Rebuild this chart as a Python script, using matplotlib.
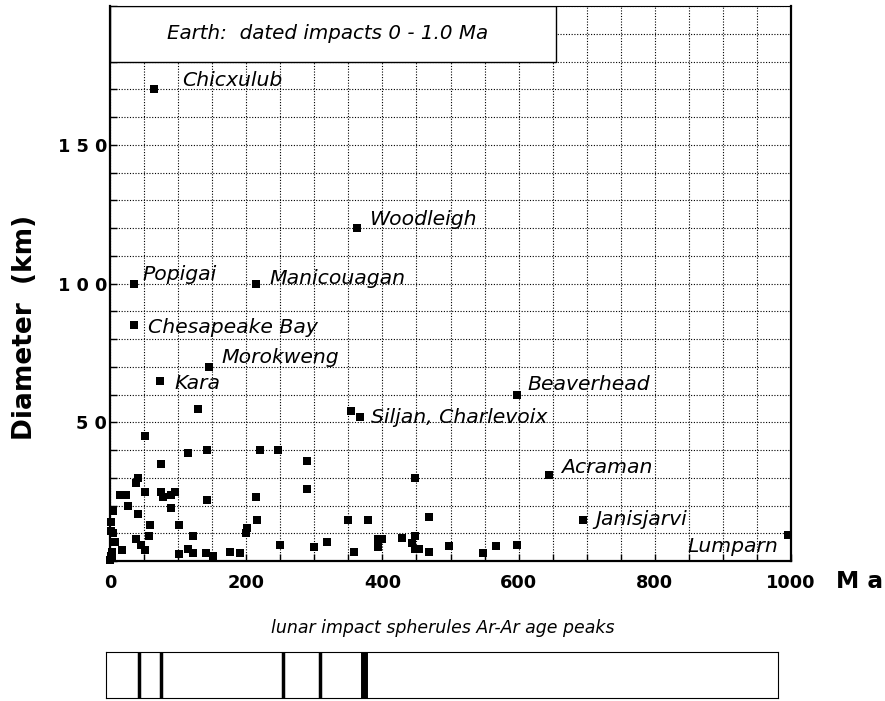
import matplotlib.pyplot as plt
from matplotlib.patches import Rectangle
from matplotlib.ticker import MultipleLocator

plt.rcParams['font.family'] = ['DejaVu Sans']

# named craters: age (Ma), diameter (km)
names = ["Chicxulub", "Popigai", "Chesapeake Bay", "Kara", "Morokweng",
         "Manicouagan", "Woodleigh", "Beaverhead", "Siljan, Charlevoix",
         "Acraman", "Janisjarvi", "Lumparn"]
named_age = [65, 35, 35, 73, 145, 214, 362, 597, 367, 644, 695, 995]
named_diam = [170, 100, 85, 65, 70, 100, 120, 60, 52, 31, 15, 9.5]

# other dated impacts
other_age = [354, 129, 51, 115, 143, 220, 247, 75, 41, 38, 15, 24, 51, 75, 78,
             89, 96, 143, 215, 26, 5, 41, 90, 216, 2, 2, 59, 101, 201, 200,
             122, 57, 4, 7, 38, 46, 51, 17, 3, 3, 1, 0.5, 249, 101, 115, 122,
             141, 151, 176, 191, 290, 290, 448, 349, 379, 469, 299, 319, 359,
             393, 400, 394, 429, 448, 443, 448, 454, 469, 498, 548, 567, 597]
other_diam = [54, 55, 45, 39, 40, 40, 40, 35, 30, 28, 24, 24, 25, 25, 23,
              24, 25, 22, 23, 20, 18, 17, 19, 15, 14, 11, 13, 13, 12, 10,
              9, 9, 10, 7, 8, 6, 4, 4, 3.5, 1, 2, 0.5, 6, 2.5, 4.5, 3,
              3, 2, 3.5, 3, 36, 26, 30, 15, 15, 16, 5, 7, 3.5,
              8, 8, 5, 8.5, 9, 6.5, 4.5, 4.5, 3.5, 5.5, 3, 5.5, 6]

# lunar spherule Ar-Ar age peaks (Ma) and relative weight
peak_age = [49, 82, 264, 318, 384]
peak_weight = [2.5, 2.5, 2.5, 2.5, 5]

xtick_vals = [0, 200, 400, 600, 800, 1000]
xtick_labels = ["0", "200", "400", "600", "800", "1000"]
ytick_vals = [50, 100, 150]
ytick_labels = ["5 0", "1 0 0", "1 5 0"]

# label offsets in pixels (dx, dy, ha)
label_offsets = [(28, 3, "left"), (9, 4, "left"), (14, -8, "left"),
                 (15, -8, "left"), (13, 4, "left"), (14, 0, "left"),
                 (13, 3, "left"), (11, 5, "left"), (11, -6, "left"),
                 (13, 2, "left"), (12, -5, "left"), (-9, -17, "right")]

fig = plt.figure(figsize=(8.85, 7.01), dpi=100)
ax = fig.add_axes([0.1243, 0.1994, 0.7695, 0.792])

ax.set_xlim(0, 1000)
ax.set_ylim(0, 200)
ax.set_axisbelow(True)

ax.xaxis.set_minor_locator(MultipleLocator(50))
ax.yaxis.set_minor_locator(MultipleLocator(10))
ax.set_xticks(xtick_vals)
ax.set_xticklabels(xtick_labels, fontsize=12.8, fontweight="bold")
ax.set_yticks(ytick_vals)
ax.set_yticklabels(ytick_labels, fontsize=12.8, fontweight="bold")
ax.tick_params(axis="both", which="both", direction="in", length=5, width=1)
ax.tick_params(axis="x", which="major", pad=9)
ax.tick_params(axis="y", which="major", pad=2)
ax.grid(True, which="both", color="black", linestyle=(0, (1, 1.5)), linewidth=0.8)
for s in ax.spines.values():
    s.set_linewidth(1.6)
ax.spines["top"].set_linewidth(0.8)

# title box
ax.add_patch(Rectangle((0, 180), 655, 20, facecolor="white", edgecolor="black",
                       linewidth=1, zorder=2))
ax.text(320, 190, "Earth:  dated impacts 0 - 1.0 Ma", ha="center", va="center",
        fontsize=14.3, style="italic", zorder=3)

ax.scatter(other_age, other_diam, marker="s", s=30, color="black", zorder=4,
           clip_on=False, linewidths=0)
ax.scatter(named_age, named_diam, marker="s", s=30, color="black", zorder=4,
           clip_on=False, linewidths=0)

for name, a, d, (dx, dy, ha) in zip(names, named_age, named_diam, label_offsets):
    ax.annotate(name, (a, d), xytext=(dx, dy), textcoords="offset pixels",
                ha=ha, va="baseline", fontsize=14.7, style="italic", zorder=5)

fig.text(25 / 885, 0.5335, "Diameter  (km)", rotation=90, ha="center", va="center",
         fontsize=19, fontweight="bold")
fig.text(836 / 885, 1 - 588 / 701, "M a", ha="left", va="baseline",
         fontsize=16.8, fontweight="bold")

# lunar spherule strip
fig.text(443 / 885, 1 - 628 / 701, "lunar impact spherules Ar-Ar age peaks",
         ha="center", va="center", fontsize=12.5, style="italic")
ax2 = fig.add_axes([106 / 885, 1 - 698 / 701, 672 / 885, 46 / 701])
ax2.set_xlim(0, 1000)
ax2.set_ylim(0, 1)
ax2.set_xticks([])
ax2.set_yticks([])
for s in ax2.spines.values():
    s.set_linewidth(0.8)
for a, w in zip(peak_age, peak_weight):
    ax2.axvline(a, color="black", linewidth=w)

fig.savefig("out.png", dpi=100)
